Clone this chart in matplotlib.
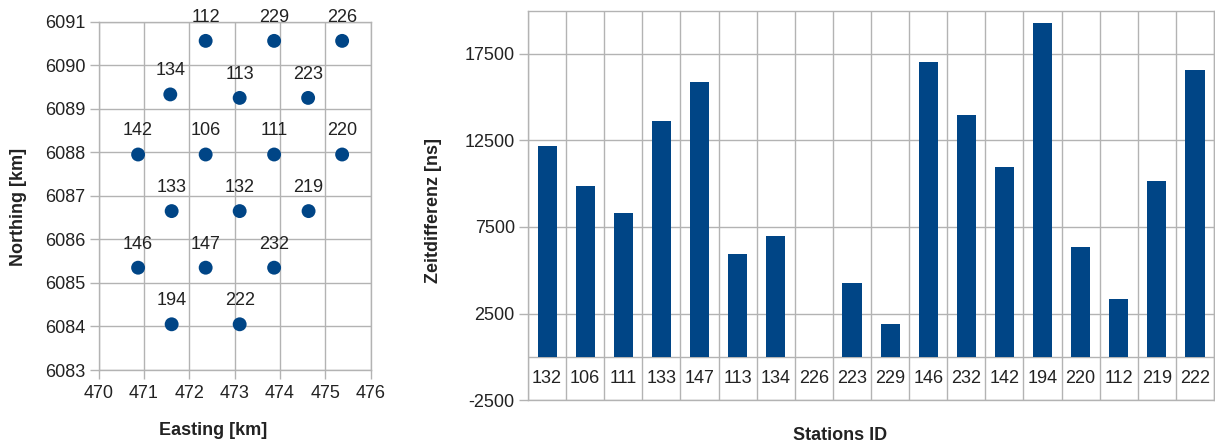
import numpy as np
import matplotlib
matplotlib.use('Agg')
import matplotlib.pyplot as plt
from matplotlib.ticker import MultipleLocator, FixedLocator

plt.rcParams['font.family'] = ['Liberation Sans', 'DejaVu Sans']
plt.rcParams['axes.unicode_minus'] = False

# Station layout (km)
station_ids = ['112', '229', '226', '134', '113', '223', '142', '106', '111',
               '220', '133', '132', '219', '146', '147', '232', '194', '222']
easting = [472.36, 473.87, 475.37, 471.58, 473.11, 474.62, 470.87, 472.36, 473.87,
           475.37, 471.61, 473.11, 474.63, 470.87, 472.36, 473.87, 471.61, 473.11]
northing = [6090.56, 6090.56, 6090.56, 6089.33, 6089.25, 6089.25, 6087.95, 6087.95, 6087.95,
            6087.95, 6086.65, 6086.65, 6086.65, 6085.35, 6085.35, 6085.35, 6084.05, 6084.05]

# Arrival time differences per station (ns)
bar_ids = ['132', '106', '111', '133', '147', '113', '134', '226', '223',
           '229', '146', '232', '142', '194', '220', '112', '219', '222']
time_diff = [12180, 9850, 8330, 13640, 15900, 5960, 6960, 0, 4290,
             1920, 17030, 13950, 10950, 19300, 6350, 3310, 10140, 16550]

BLUE = '#004586'
GRID = '#b3b3b3'
TEXT = '#222222'
FS = 13


def style_frame(ax):
    for sp in ax.spines.values():
        sp.set_color(GRID)
        sp.set_linewidth(1.0)
    ax.tick_params(colors=GRID, labelcolor=TEXT, labelsize=FS, length=6.5, width=1.0)


fig = plt.figure(figsize=(12.15, 4.46), dpi=100)

# Left: station map
ax1 = fig.add_axes([0.0812, 0.1704, 0.2239, 0.7809])
ax1.scatter(easting, northing, s=100, color=BLUE, edgecolors='none', zorder=3)
for sid, x, y in zip(station_ids, easting, northing):
    ax1.annotate(sid, (x, y), xytext=(0, 17), textcoords='offset points',
                 ha='center', va='center', fontsize=FS, color=TEXT, zorder=4)
ax1.set_xlim(470, 476)
ax1.set_ylim(6083, 6091)
ax1.xaxis.set_major_locator(MultipleLocator(1))
ax1.yaxis.set_major_locator(MultipleLocator(1))
ax1.grid(True, color=GRID, linewidth=1.0)
ax1.set_axisbelow(True)
style_frame(ax1)
ax1.tick_params(axis='y', pad=3)
ax1.tick_params(axis='x', pad=4)
ax1.set_xlabel('Easting [km]', fontsize=FS, fontweight='bold', color=TEXT)
ax1.set_ylabel('Northing [km]', fontsize=FS, fontweight='bold', color=TEXT)
ax1.xaxis.set_label_coords(0.42, -0.15)
ax1.yaxis.set_label_coords(-0.262, 0.467)

# Right: time differences
ax2 = fig.add_axes([0.4346, 0.1031, 0.5646, 0.8729])
x = np.arange(len(bar_ids))
ax2.bar(x, time_diff, width=0.5, color=BLUE, zorder=3)
ax2.set_xlim(-0.5, len(bar_ids) - 0.5)
ax2.set_ylim(-2500, 20000)
ax2.yaxis.set_major_locator(FixedLocator([-2500, 2500, 7500, 12500, 17500]))
ax2.set_xticks([])
ax2.xaxis.set_minor_locator(FixedLocator(np.arange(len(bar_ids) + 1) - 0.5))
ax2.grid(True, axis='y', which='major', color=GRID, linewidth=1.0)
ax2.grid(True, axis='x', which='minor', color=GRID, linewidth=1.0)
ax2.tick_params(axis='x', which='minor', length=0)
ax2.axhline(0, color=GRID, linewidth=1.0, zorder=2)
ax2.set_axisbelow(True)
style_frame(ax2)
ax2.tick_params(axis='y', pad=3)
for xi, sid in zip(x, bar_ids):
    ax2.text(xi, -1250, sid, ha='center', va='center', fontsize=FS, color=TEXT)
ax2.set_xlabel('Stations ID', fontsize=FS, fontweight='bold', color=TEXT)
ax2.set_ylabel('Zeitdifferenz [ns]', fontsize=FS, fontweight='bold', color=TEXT)
ax2.xaxis.set_label_coords(0.455, -0.07)
ax2.yaxis.set_label_coords(-0.125, 0.488)

fig.savefig('out.png', dpi=100)
